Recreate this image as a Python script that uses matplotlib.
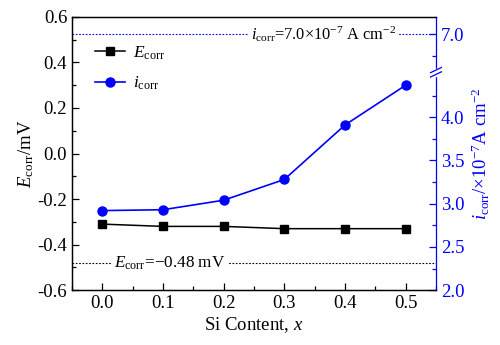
import matplotlib
matplotlib.use("Agg")
import matplotlib.pyplot as plt
from matplotlib.ticker import MultipleLocator, FixedLocator

plt.rcParams['font.family'] = ['Liberation Serif', 'DejaVu Serif']
plt.rcParams['mathtext.fontset'] = 'custom'
plt.rcParams['mathtext.rm'] = 'Liberation Serif'
plt.rcParams['mathtext.it'] = 'Liberation Serif:italic'

si_content = [0.0, 0.1, 0.2, 0.3, 0.4, 0.5]
e_corr = [-0.31, -0.32, -0.32, -0.33, -0.33, -0.33]
i_corr = [2.92, 2.93, 3.04, 3.28, 3.91, 4.37]
e_ref = -0.48
i_ref = 7.0
right_ticks_low = [2.0, 2.5, 3.0, 3.5, 4.0]
right_ticks_high = [7.0]

# broken right axis: upper segment shifted down by this offset
break_low = 4.52
offset = 2.04

def to_lin(v):
    return v if v <= break_low + 0.2 else v - offset

BLUE = '#0000ff'
FS = 13.5

fig = plt.figure(figsize=(5.0, 3.45), dpi=100)
ax = fig.add_axes([0.144, 0.159, 0.728, 0.792])
ax2 = ax.twinx()

ax.set_xlim(-0.05, 0.55)
ax.set_ylim(-0.6, 0.6)
ax2.set_ylim(2.0, 5.16)

# reference lines
ax.axhline(e_ref, color='black', ls=(0, (1.5, 1.5)), lw=0.8, zorder=1)
ax2.axhline(to_lin(i_ref), color=BLUE, ls=(0, (1.5, 1.5)), lw=0.8, zorder=1)
ax.text(0.019, e_ref, r'$\mathit{E}_{\rm corr}$=' + '\u22120.48 mV',
        fontsize=FS - 1.2, va='center', ha='left',
        bbox=dict(facecolor='white', edgecolor='none', pad=2.0), zorder=3)
ax2.text(0.245, to_lin(i_ref), r'$\mathit{i}_{\rm corr}$=7.0$\times$10$^{-7}$ A cm$^{-2}$',
         fontsize=FS - 1.7, va='center', ha='left',
         bbox=dict(facecolor='white', edgecolor='none', pad=1.5), zorder=3)

l1, = ax.plot(si_content, e_corr, color='black', marker='s', ms=6, lw=1.1,
              label=r'$\mathit{E}_{\rm corr}$', zorder=4)
l2, = ax2.plot(si_content, [to_lin(v) for v in i_corr], color=BLUE, marker='o',
               ms=6.5, lw=1.2, label=r'$\mathit{i}_{\rm corr}$', zorder=4)

# left axis
yt = [-0.6, -0.4, -0.2, 0.0, 0.2, 0.4, 0.6]
ax.set_yticks(yt)
ax.set_yticklabels(['%.1f' % v for v in yt])
ax.yaxis.set_minor_locator(MultipleLocator(0.1))
ax.set_xticks(si_content)
ax.set_xticklabels(['%.1f' % v for v in si_content])
ax.xaxis.set_minor_locator(MultipleLocator(0.05))
ax.tick_params(which='both', direction='in', labelsize=FS, top=False)
ax.tick_params(which='major', length=5, width=0.9)
ax.tick_params(which='minor', length=3, width=0.9)
ax.set_xlabel(r'Si Content, $\mathit{x}$', fontsize=FS, labelpad=2)
ax.set_ylabel(r'$\mathit{E}_{\rm corr}$/mV', fontsize=FS, labelpad=1)

# right axis
ax2.set_yticks([to_lin(v) for v in right_ticks_low + right_ticks_high])
ax2.set_yticklabels(['%.1f' % v for v in right_ticks_low + right_ticks_high])
minors = [2.25, 2.75, 3.25, 3.75, 4.25, 6.75]
ax2.yaxis.set_minor_locator(FixedLocator([to_lin(v) for v in minors]))
ax2.tick_params(which='both', direction='in', labelsize=FS, colors=BLUE)
ax2.tick_params(which='major', length=5, width=0.9)
ax2.tick_params(which='minor', length=3, width=0.9)
ax2.spines['right'].set_color(BLUE)
ax2.set_ylabel(r'$\mathit{i}_{\rm corr}$/$\times$10$^{-7}$A cm$^{-2}$', fontsize=FS,
               color=BLUE, labelpad=4)

for sp in ['left', 'bottom', 'top']:
    ax.spines[sp].set_linewidth(0.9)
    ax2.spines[sp].set_linewidth(0.9)
ax2.spines['right'].set_linewidth(0.9)
ax.spines['right'].set_visible(False)

# break marks on right spine
yb = break_low
trans = ax2.get_yaxis_transform()
ax2.plot([1.0, 1.0], [yb - 0.03, yb + 0.03], transform=trans, color='white',
         lw=2.5, clip_on=False, zorder=4.5)
for dy in (-0.025, 0.025):
    ax2.plot([0.985, 1.015], [yb + dy - 0.03, yb + dy + 0.03], transform=trans,
             color=BLUE, lw=0.9, clip_on=False, zorder=5)

leg = ax.legend(handles=[l1, l2], loc='upper left', bbox_to_anchor=(0.03, 0.944),
                frameon=False, fontsize=FS - 1, handlelength=1.7, labelspacing=0.75,
                handletextpad=0.5, borderaxespad=0.3)

fig.savefig('out.png', dpi=100)
